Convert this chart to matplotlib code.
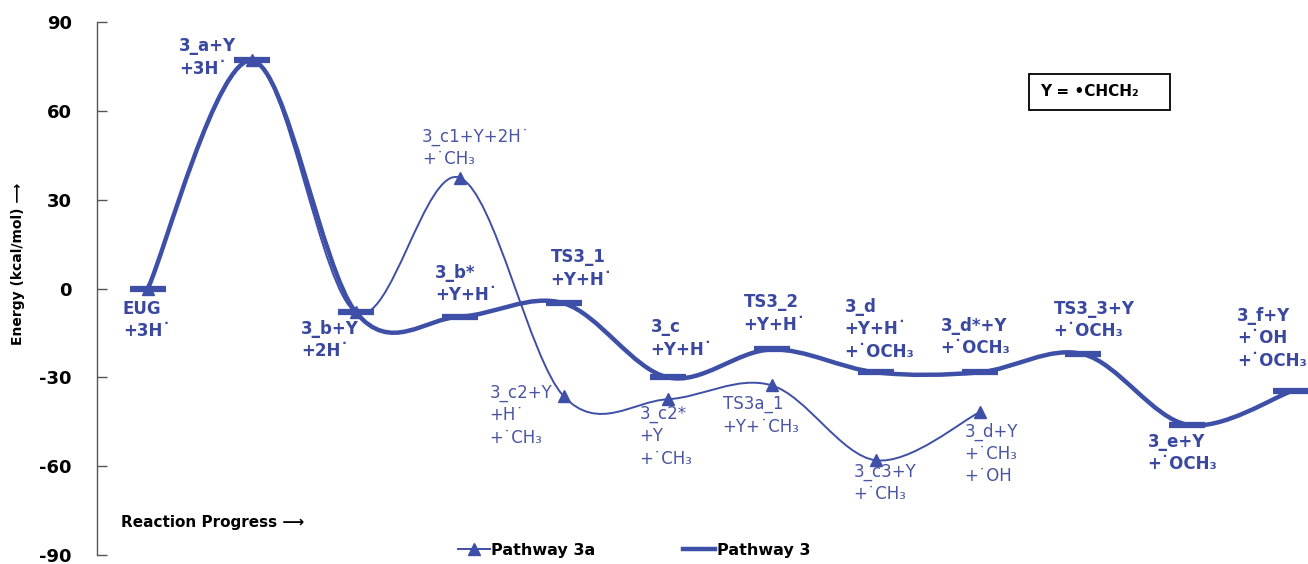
import matplotlib
matplotlib.use('Agg')
import matplotlib.pyplot as plt
from matplotlib.path import Path
from matplotlib.patches import PathPatch, Rectangle
from matplotlib.lines import Line2D

plt.rcParams['font.family'] = ['DejaVu Sans']
plt.rcParams['axes.unicode_minus'] = False

# Pathway 3 (thick line, level bars)
p3_steps = [0, 1, 2, 3, 4, 5, 6, 7, 8, 9, 10, 11]
p3_energy = [0, 77, -8, -9.5, -5, -30, -20.6, -28.3, -28.3, -22.2, -46, -34.7]
p3_labels = ['EUG\n+3H˙', '3_a+Y\n+3H˙', '3_b+Y\n+2H˙', '3_b*\n+Y+H˙',
             'TS3_1\n+Y+H˙', '3_c\n+Y+H˙', 'TS3_2\n+Y+H˙',
             '3_d\n+Y+H˙\n+˙OCH₃', '3_d*+Y\n+˙OCH₃', 'TS3_3+Y\n+˙OCH₃',
             '3_e+Y\n+˙OCH₃', '3_f+Y\n+˙OH\n+˙OCH₃']

# Pathway 3a (thin line, triangles)
p3a_steps = [0, 1, 2, 3, 4, 5, 6, 7, 8]
p3a_energy = [0, 77, -8, 37.4, -36.4, -37.4, -32.7, -58, -41.8]
p3a_labels = [None, None, None, '3_c1+Y+2H˙\n+˙CH₃', '3_c2+Y\n+H˙\n+˙CH₃',
              '3_c2*\n+Y\n+˙CH₃', 'TS3a_1\n+Y+˙CH₃', '3_c3+Y\n+˙CH₃',
              '3_d+Y\n+˙CH₃\n+˙OH']

# label offsets in pixels (top-left corner of text relative to point)
p3_offsets = [(-25, -11), (-73, 23), (-55, -8), (-25, 53), (-13, 55), (-17, 59),
              (-28, 56), (-31, 74), (-39, 55), (-30, 54), (-40, -8), (-54, 84)]
p3a_offsets = [None, None, None, (-38, 50), (-74, 12), (-28, -6), (-49, -10),
               (-22, -3), (-15, -10)]

LINE = '#3d4fa6'
TEXT3 = '#3a48a0'
TEXT3A = '#4a55a2'


def smooth_path(xs, ys):
    # Catmull-Rom style bezier, like a spreadsheet "smoothed line"
    pts = list(zip(xs, ys))
    n = len(pts)
    verts = [pts[0]]
    codes = [Path.MOVETO]
    for i in range(n - 1):
        p0 = pts[max(i - 1, 0)]
        p1 = pts[i]
        p2 = pts[i + 1]
        p3 = pts[min(i + 2, n - 1)]
        c1 = (p1[0] + (p2[0] - p0[0]) / 6, p1[1] + (p2[1] - p0[1]) / 6)
        c2 = (p2[0] - (p3[0] - p1[0]) / 6, p2[1] - (p3[1] - p1[1]) / 6)
        verts += [c1, c2, p2]
        codes += [Path.CURVE4] * 3
    return Path(verts, codes)


fig = plt.figure(figsize=(13.08, 5.64), dpi=100)
ax = fig.add_axes([97 / 1308, 9 / 564, 1 - 97 / 1308, 533 / 564])
ax.set_xlim(-0.49, 11.16)
ax.set_ylim(-90, 90)

# pathway 3a
ax.add_patch(PathPatch(smooth_path(p3a_steps, p3a_energy), fill=False,
                       ec=LINE, lw=1.4, zorder=2))
ax.plot(p3a_steps, p3a_energy, ls='none', marker='^', ms=8, color=LINE, zorder=2)

# pathway 3
ax.add_patch(PathPatch(smooth_path(p3_steps, p3_energy), fill=False,
                       ec=LINE, lw=3.2, zorder=3, capstyle='butt'))
ax.plot(p3_steps, p3_energy, ls='none', marker='_', ms=26, mew=4.5,
        color=LINE, zorder=4)

for x, y, lab, off in zip(p3_steps, p3_energy, p3_labels, p3_offsets):
    ax.annotate(lab, (x, y), xytext=off, textcoords='offset pixels',
                ha='left', va='top', fontsize=12, fontweight='bold',
                color=TEXT3, linespacing=1.3, annotation_clip=False)

for x, y, lab, off in zip(p3a_steps, p3a_energy, p3a_labels, p3a_offsets):
    if lab is None:
        continue
    ax.annotate(lab, (x, y), xytext=off, textcoords='offset pixels',
                ha='left', va='top', fontsize=12, color=TEXT3A,
                linespacing=1.3, annotation_clip=False)

# axes styling
for s in ['top', 'right', 'bottom']:
    ax.spines[s].set_visible(False)
ax.spines['left'].set_color('#555555')
ax.spines['left'].set_linewidth(1.0)
ax.set_xticks([])
ax.set_yticks([-90, -60, -30, 0, 30, 60, 90])
ax.tick_params(axis='y', direction='in', length=7, width=1, color='#555555',
               pad=18, labelsize=13)
for t in ax.get_yticklabels():
    t.set_fontweight('bold')

fig.text(18 / 1308, 1 - 264 / 564, 'Energy (kcal/mol) ⟶', rotation=90,
         ha='center', va='center', fontsize=10, fontweight='bold')
fig.text(121 / 1308, 1 - 522 / 564, 'Reaction Progress ⟶', ha='left',
         va='center', fontsize=11, fontweight='bold')

# Y definition box
fig.add_artist(Rectangle((1029 / 1308, 1 - 110 / 564), 141 / 1308, 36 / 564,
                         transform=fig.transFigure, fill=False, ec='black',
                         lw=1.3))
fig.text(1040 / 1308, 1 - 92 / 564, 'Y = •CHCH₂', ha='left', va='center',
         fontsize=11, fontweight='bold')

handles = [Line2D([], [], color=LINE, lw=1.4, marker='^', ms=8),
           Line2D([], [], color=LINE, lw=3.2)]
fig.legend(handles, ['Pathway 3a', 'Pathway 3'], loc='center',
           bbox_to_anchor=(634 / 1308, 1 - 550 / 564), ncol=2, frameon=False,
           prop={'weight': 'bold', 'size': 11.5}, handlelength=2,
           handletextpad=0.1, columnspacing=5.5)

fig.savefig('out.png', dpi=100)
